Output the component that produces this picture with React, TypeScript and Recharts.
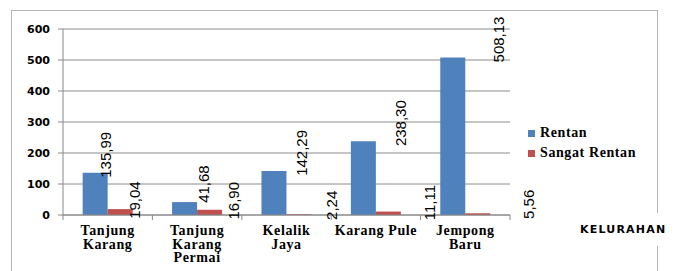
import { BarChart, Bar, XAxis, YAxis, CartesianGrid, LabelList } from 'recharts';

const kelurahan = ['Tanjung Karang', 'Tanjung Karang Permai', 'Kelalik Jaya', 'Karang Pule', 'Jempong Baru'];
const tickLines = [['Tanjung', 'Karang'], ['Tanjung', 'Karang', 'Permai'], ['Kelalik', 'Jaya'], ['Karang Pule'], ['Jempong', 'Baru']];
const rentan = [135.99, 41.68, 142.29, 238.3, 508.13];
const sangatRentan = [19.04, 16.9, 2.24, 11.11, 5.56];
const yTicks = [0, 100, 200, 300, 400, 500, 600];

const data = kelurahan.map((name, i) => ({ name, rentan: rentan[i], sangat: sangatRentan[i] }));

const BLUE = '#4F81BD';
const RED = '#C0504D';
const serif = '"Liberation Serif", "Times New Roman", serif';
const sans = '"DejaVu Sans", Arial, sans-serif';

const fmt = (v: number) => v.toFixed(2).replace('.', ',');

// Excel put these labels drifting to the right, so shift each one a bit more than the last
const makeLabel = (series: number) => (props: any) => {
  const { x, y, width, index, value } = props;
  const k = 2 * index + series;
  const cx = x + width / 2 + 10 + 4.5 * k;
  const cy = y - (series === 0 ? 18 : 9);
  return (
    <text
      x={cx}
      y={cy}
      transform={`rotate(-90, ${cx}, ${cy})`}
      textAnchor="middle"
      dominantBaseline="central"
      fontFamily='"Liberation Sans", Arial, sans-serif'
      fontSize={15}
      fill="#000"
    >
      {fmt(value)}
    </text>
  );
};

const CategoryTick = (props: any) => {
  const { x, y, index } = props;
  const half = 44.7;
  const lines = tickLines[index] || [];
  return (
    <g>
      <line x1={x - half} y1={y - 8} x2={x - half} y2={y - 3} stroke="#888" />
      {index === kelurahan.length - 1 && (
        <line x1={x + half} y1={y - 8} x2={x + half} y2={y - 3} stroke="#888" />
      )}
      <text textAnchor="middle" fontFamily={serif} fontWeight="bold" fontSize={14} letterSpacing={0.6} fill="#000">
        {lines.map((l, i) => (
          <tspan key={i} x={x} y={y + 12 + i * 13.5}>
            {l}
          </tspan>
        ))}
      </text>
    </g>
  );
};

const legendItems = [
  { label: 'Rentan', color: BLUE },
  { label: 'Sangat Rentan', color: RED },
];

export default function App() {
  return (
    <div style={{ position: 'absolute', left: 0, top: 0, width: 677, height: 271, overflow: 'hidden', background: '#fff' }}>
      <div
        style={{
          position: 'absolute',
          left: 11,
          top: 10,
          width: 645,
          height: 290,
          border: '1px solid #b5b5b5',
        }}
      />
      <div style={{ position: 'absolute', left: 0, top: 0 }}>
        <BarChart
          width={677}
          height={271}
          data={data}
          margin={{ top: 29, right: 167, bottom: 0, left: 0 }}
          barCategoryGap="22%"
          barGap={0}
        >
          <CartesianGrid horizontal vertical={false} stroke="#8c8c8c" />
          <XAxis
            dataKey="name"
            stroke="#888"
            tickLine={false}
            tick={<CategoryTick />}
            interval={0}
            height={56}
          />
          <YAxis
            domain={[0, 600]}
            ticks={yTicks}
            width={63}
            stroke="#888"
            tickSize={5}
            tickMargin={8}
            tick={{ fontFamily: sans, fontWeight: 'bold', fontSize: 11, fill: '#000' }}
          />
          <Bar dataKey="rentan" name="Rentan" fill={BLUE} isAnimationActive={false}>
            <LabelList dataKey="rentan" content={makeLabel(0)} />
          </Bar>
          <Bar dataKey="sangat" name="Sangat Rentan" fill={RED} isAnimationActive={false}>
            <LabelList dataKey="sangat" content={makeLabel(1)} />
          </Bar>
        </BarChart>
      </div>
      <div
        style={{
          position: 'absolute',
          left: 528,
          top: 123,
          fontFamily: serif,
          fontWeight: 'bold',
          fontSize: 14,
          letterSpacing: 0.6,
          color: '#000',
        }}
      >
        {legendItems.map((it) => (
          <div key={it.label} style={{ display: 'flex', alignItems: 'center', height: 20 }}>
            <span style={{ width: 7, height: 7, background: it.color, marginRight: 5, display: 'inline-block' }} />
            {it.label}
          </div>
        ))}
      </div>
      <div
        style={{
          position: 'absolute',
          left: 578,
          top: 213,
          padding: '10px 2px',
          background: '#fff',
          fontFamily: sans,
          fontWeight: 'bold',
          fontSize: 11,
          letterSpacing: 1.2,
          color: '#000',
        }}
      >
        KELURAHAN
      </div>
    </div>
  );
}
